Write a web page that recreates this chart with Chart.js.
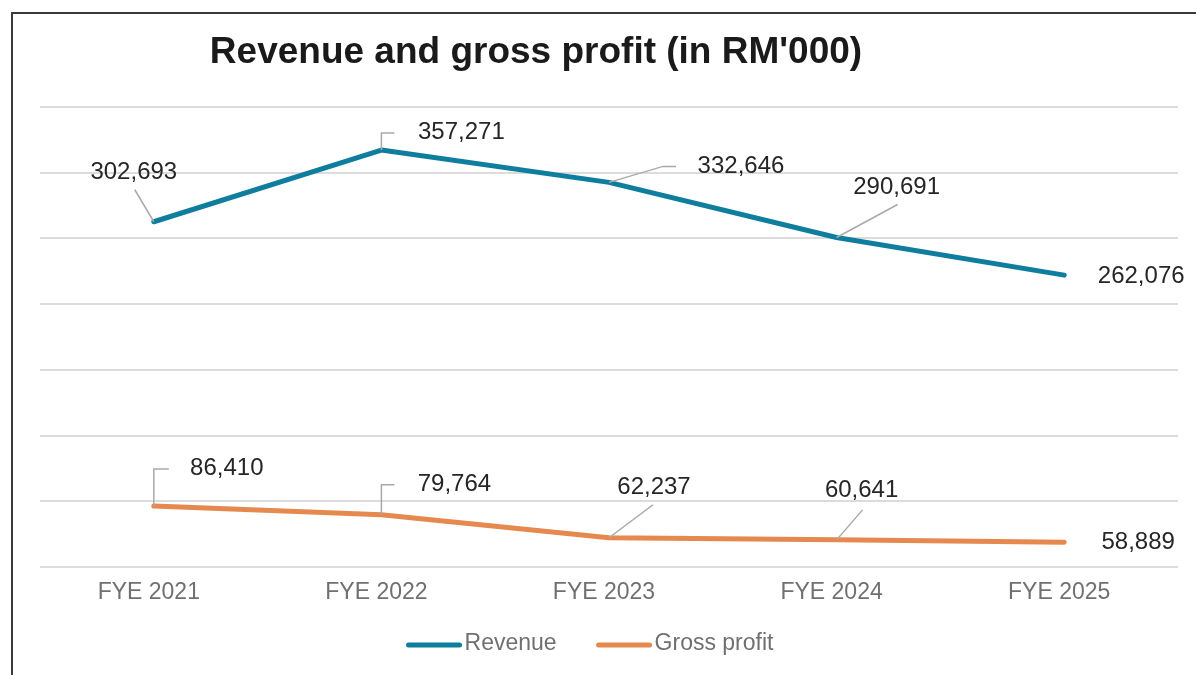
<!DOCTYPE html>
<html>
<head>
<meta charset="utf-8">
<script src="https://cdn.jsdelivr.net/npm/chart.js@4.4.1/dist/chart.umd.min.js"></script>
<style>
  html, body { margin: 0; padding: 0; background: #fff; }
  #wrap { width: 1196px; height: 675px; }
</style>
</head>
<body>
<div id="wrap"><canvas id="myChart" width="1196" height="675"></canvas></div>
<script>
var years = ["FYE 2021", "FYE 2022", "FYE 2023", "FYE 2024", "FYE 2025"];
var revenue = [302693, 357271, 332646, 290691, 262076];
var grossProfit = [86410, 79764, 62237, 60641, 58889];
var seriesNames = ["Revenue", "Gross profit"];
var lineColors = ["#0f7d9e", "#e6894f"];

// label placement relative to each point (text centre + leader line bends)
var labelSpots = [
    [
        { dx: -20, dy: -49, lead: [[-19, -32]] },
        { dx: 80, dy: -18, lead: [[0, -17], [13, -17]] },
        { dx: 132, dy: -16, lead: [[54, -16], [67, -16]] },
        { dx: 60, dy: -50, lead: [[61, -33]] },
        { dx: 77, dy: 1, lead: null }
    ],
    [
        { dx: 73, dy: -38, lead: [[0, -37], [15, -37]] },
        { dx: 73, dy: -30, lead: [[0, -30], [13, -30]] },
        { dx: 45, dy: -50, lead: [[44, -33]] },
        { dx: 25, dy: -49, lead: [[26, -30]] },
        { dx: 74, dy: 0, lead: null }
    ]
];

var fontName = "'Liberation Sans', Arial, Helvetica, sans-serif";

var extras = {
    id: "extras",
    afterDraw: function (chart) {
        var ctx = chart.ctx;
        ctx.save();

        // frame
        ctx.strokeStyle = "#3a3a3a";
        ctx.lineWidth = 2;
        ctx.strokeRect(12, 13, 1400, 900);

        // title
        ctx.fillStyle = "#1a1a1a";
        ctx.font = "bold 37px " + fontName;
        ctx.textAlign = "center";
        ctx.textBaseline = "alphabetic";
        ctx.fillText("Revenue and gross profit (in RM'000)", 536, 63);

        // data labels with leader lines
        chart.data.datasets.forEach(function (ds, di) {
            var meta = chart.getDatasetMeta(di);
            meta.data.forEach(function (pt, i) {
                var spot = labelSpots[di][i];
                if (spot.lead) {
                    ctx.strokeStyle = "#a9a9a9";
                    ctx.lineWidth = 1.5;
                    ctx.beginPath();
                    ctx.moveTo(pt.x, pt.y);
                    spot.lead.forEach(function (p) { ctx.lineTo(pt.x + p[0], pt.y + p[1]); });
                    ctx.stroke();
                }
                ctx.fillStyle = "#262626";
                ctx.font = "24px " + fontName;
                ctx.textAlign = "center";
                ctx.textBaseline = "middle";
                ctx.fillText(ds.data[i].toLocaleString("en-US"), pt.x + spot.dx, pt.y + spot.dy);
            });
        });

        // legend
        ctx.font = "23px " + fontName;
        var lineLen = 55, gap = 3, itemGap = 40;
        var widths = chart.data.datasets.map(function (ds) {
            return lineLen + gap + ctx.measureText(ds.label).width;
        });
        var total = widths.reduce(function (a, b) { return a + b; }, 0) + itemGap * (widths.length - 1);
        var x = 590 - total / 2, y = 645;
        chart.data.datasets.forEach(function (ds, di) {
            ctx.strokeStyle = ds.borderColor;
            ctx.lineWidth = 5;
            ctx.lineCap = "round";
            ctx.beginPath();
            ctx.moveTo(x + 2, y);
            ctx.lineTo(x + lineLen - 2, y);
            ctx.stroke();
            ctx.fillStyle = "#707070";
            ctx.textAlign = "left";
            ctx.textBaseline = "middle";
            ctx.fillText(ds.label, x + lineLen + gap, y - 1);
            x += widths[di] + itemGap;
        });

        ctx.restore();
    }
};

new Chart("myChart", {
    type: "line",
    data: {
        labels: years,
        datasets: [{
            label: seriesNames[0],
            data: revenue,
            borderColor: lineColors[0],
            backgroundColor: lineColors[0],
            borderWidth: 5,
            borderCapStyle: "round",
            borderJoinStyle: "round",
            pointRadius: 0,
            tension: 0
        }, {
            label: seriesNames[1],
            data: grossProfit,
            borderColor: lineColors[1],
            backgroundColor: lineColors[1],
            borderWidth: 5,
            borderCapStyle: "round",
            borderJoinStyle: "round",
            pointRadius: 0,
            tension: 0
        }]
    },
    options: {
        responsive: false,
        animation: false,
        layout: { padding: { top: 107, left: 40, right: 18, bottom: 60 } },
        plugins: {
            legend: { display: false },
            title: { display: false },
            tooltip: { enabled: false }
        },
        scales: {
            x: {
                offset: true,
                grid: { display: false, drawTicks: false },
                border: { display: false },
                ticks: {
                    color: "#707070",
                    font: { family: fontName, size: 23 },
                    padding: 12,
                    labelOffset: -5,
                    maxRotation: 0
                },
                afterFit: function (s) { s.height = 48; }
            },
            y: {
                min: 40000,
                max: 390000,
                ticks: { display: false, stepSize: 50000 },
                grid: { color: "#dcdcdc", lineWidth: 2, drawTicks: false },
                border: { display: false },
                afterFit: function (s) { s.width = 0; }
            }
        }
    },
    plugins: [extras]
});
</script>
</body>
</html>
